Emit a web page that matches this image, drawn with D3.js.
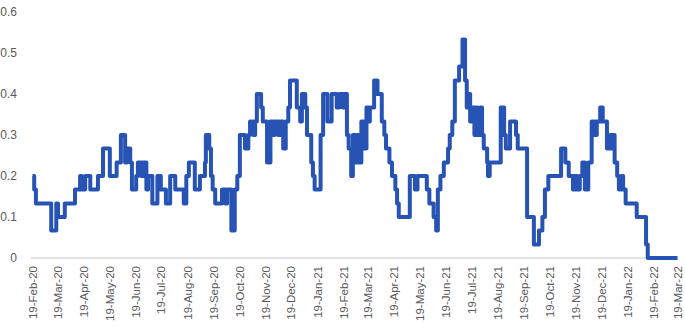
<!DOCTYPE html>
<html>
<head>
<meta charset="utf-8">
<script src="https://cdn.jsdelivr.net/npm/d3@7"></script>
<style>
  html, body { margin: 0; padding: 0; background: #fff; }
  svg { display: block; }
</style>
</head>
<body>
<svg id="chart" width="685" height="332"></svg>
<script>
// Dates where the value changes (series is a stepped daily series)
const dates = [
  "2020-02-19","2020-02-21","2020-02-23","2020-03-12","2020-03-18","2020-03-20","2020-03-28","2020-04-09","2020-04-15","2020-04-17",
  "2020-04-21","2020-04-27","2020-05-06","2020-05-12","2020-05-20","2020-05-28","2020-06-02","2020-06-07","2020-06-09","2020-06-13",
  "2020-06-15","2020-06-20","2020-06-22","2020-06-26","2020-06-28","2020-07-02","2020-07-04","2020-07-09","2020-07-15","2020-07-19",
  "2020-07-25","2020-07-30","2020-08-05","2020-08-15","2020-08-18","2020-08-21","2020-08-28","2020-09-03","2020-09-09","2020-09-10",
  "2020-09-14","2020-09-16","2020-09-18","2020-09-21","2020-09-29","2020-10-03","2020-10-05","2020-10-10","2020-10-14","2020-10-17",
  "2020-10-20","2020-10-26","2020-10-30","2020-11-01","2020-11-05","2020-11-07","2020-11-09","2020-11-14","2020-11-16","2020-11-21",
  "2020-11-25","2020-11-28","2020-11-30","2020-12-04","2020-12-06","2020-12-10","2020-12-13","2020-12-16","2020-12-18","2020-12-26",
  "2020-12-30","2021-01-01","2021-01-05","2021-01-07","2021-01-12","2021-01-14","2021-01-16","2021-01-23","2021-01-26","2021-01-31",
  "2021-02-05","2021-02-11","2021-02-14","2021-02-18","2021-02-20","2021-02-23","2021-02-25","2021-02-28","2021-03-02","2021-03-05",
  "2021-03-07","2021-03-09","2021-03-12","2021-03-16","2021-03-18","2021-03-21","2021-03-22","2021-03-27","2021-03-31","2021-04-05",
  "2021-04-08","2021-04-10","2021-04-14","2021-04-17","2021-04-21","2021-04-23","2021-04-25","2021-05-08","2021-05-14","2021-05-17",
  "2021-05-28","2021-05-31","2021-06-05","2021-06-08","2021-06-10","2021-06-13","2021-06-17","2021-06-22","2021-06-24","2021-06-27",
  "2021-06-30","2021-07-05","2021-07-09","2021-07-12","2021-07-14","2021-07-16","2021-07-18","2021-07-20","2021-07-23","2021-07-25",
  "2021-07-27","2021-07-30","2021-08-01","2021-08-03","2021-08-07","2021-08-08","2021-08-10","2021-08-23","2021-08-27","2021-08-29",
  "2021-09-03","2021-09-10","2021-09-12","2021-09-23","2021-10-01","2021-10-07","2021-10-11","2021-10-14","2021-10-18","2021-11-02",
  "2021-11-07","2021-11-11","2021-11-16","2021-11-18","2021-11-21","2021-11-24","2021-11-27","2021-11-30","2021-12-04","2021-12-08",
  "2021-12-12","2021-12-14","2021-12-18","2021-12-21","2021-12-26","2021-12-30","2022-01-01","2022-01-02","2022-01-04","2022-01-07",
  "2022-01-09","2022-01-12","2022-01-14","2022-01-17","2022-01-30","2022-02-10","2022-02-12","2022-03-19"
];
const values = [
  0.2,0.167,0.133,0.067,0.133,0.1,0.133,0.167,0.2,0.167,
  0.2,0.167,0.2,0.267,0.2,0.233,0.3,0.233,0.267,0.233,
  0.167,0.2,0.233,0.2,0.233,0.167,0.2,0.133,0.2,0.167,
  0.133,0.2,0.167,0.133,0.2,0.233,0.167,0.2,0.233,0.3,
  0.267,0.2,0.167,0.133,0.167,0.133,0.167,0.067,0.167,0.2,
  0.3,0.267,0.3,0.333,0.3,0.333,0.4,0.367,0.333,0.233,
  0.333,0.3,0.333,0.3,0.333,0.267,0.333,0.367,0.433,0.367,
  0.333,0.4,0.367,0.3,0.233,0.2,0.167,0.3,0.4,0.333,
  0.4,0.367,0.4,0.367,0.4,0.3,0.267,0.2,0.3,0.233,
  0.3,0.233,0.333,0.267,0.367,0.333,0.367,0.433,0.4,0.333,
  0.3,0.267,0.233,0.2,0.167,0.133,0.1,0.2,0.167,0.2,
  0.167,0.133,0.1,0.067,0.167,0.2,0.233,0.267,0.3,0.333,
  0.433,0.467,0.533,0.433,0.367,0.4,0.333,0.367,0.3,0.367,
  0.3,0.367,0.3,0.267,0.233,0.2,0.233,0.367,0.3,0.267,
  0.333,0.3,0.267,0.1,0.033,0.067,0.1,0.167,0.2,0.267,
  0.233,0.2,0.167,0.2,0.167,0.2,0.233,0.167,0.233,0.333,
  0.3,0.333,0.367,0.333,0.267,0.3,0.267,0.3,0.233,0.2,
  0.167,0.2,0.167,0.133,0.1,0.033,0,0
];
const tickDates = [
  "2020-02-19","2020-03-19","2020-04-19","2020-05-19","2020-06-19","2020-07-19","2020-08-19","2020-09-19","2020-10-19",
  "2020-11-19","2020-12-19","2021-01-19","2021-02-19","2021-03-19","2021-04-19","2021-05-19","2021-06-19","2021-07-19",
  "2021-08-19","2021-09-19","2021-10-19","2021-11-19","2021-12-19","2022-01-19","2022-02-19","2022-03-19"
];
const yTicks = [0, 0.1, 0.2, 0.3, 0.4, 0.5, 0.6];

const parse = d3.utcParse("%Y-%m-%d");
const fmt = d3.utcFormat("%d-%b-%y");
const data = dates.map((d, i) => ({ date: parse(d), value: values[i] }));

const svg = d3.select("#chart");
const x = d3.scaleUtc()
  .domain([parse(dates[0]), parse(dates[dates.length - 1])])
  .range([32.5, 677.5]);
const y = d3.scaleLinear().domain([0, 0.6]).range([258, 12]);

const font = "'Liberation Sans', Arial, sans-serif";

// baseline axis
svg.append("line")
  .attr("x1", 31).attr("x2", 678)
  .attr("y1", y(0)).attr("y2", y(0))
  .attr("stroke", "#d9d9d9").attr("stroke-width", 1.5);

// y axis labels
const yAxis = d3.axisLeft(y).tickValues(yTicks).tickSize(0).tickPadding(0)
  .tickFormat(d => d3.format("")(d));
const yg = svg.append("g").attr("transform", "translate(17,0)").call(yAxis);
yg.select(".domain").remove();
yg.selectAll("text").attr("fill", "#595959").style("font-family", font).style("font-size", "12px");

// x axis labels
const xAxis = d3.axisBottom(x).tickValues(tickDates.map(parse)).tickSize(0).tickFormat(fmt);
const xg = svg.append("g").attr("transform", `translate(0,${y(0)})`).call(xAxis);
xg.select(".domain").remove();
xg.selectAll("text")
  .attr("fill", "#595959")
  .style("font-family", font).style("font-size", "11.5px")
  .attr("text-anchor", "end")
  .attr("transform", "translate(0,8) rotate(-90)")
  .attr("x", 0).attr("y", 0).attr("dy", "0.35em");

// line
const line = d3.line()
  .x(d => x(d.date))
  .y(d => y(d.value))
  .curve(d3.curveStepAfter);
svg.append("path")
  .datum(data)
  .attr("fill", "none")
  .attr("stroke", "#2653B4")
  .attr("stroke-width", 4)
  .attr("stroke-linejoin", "round")
  .attr("d", line);
</script>
</body>
</html>
